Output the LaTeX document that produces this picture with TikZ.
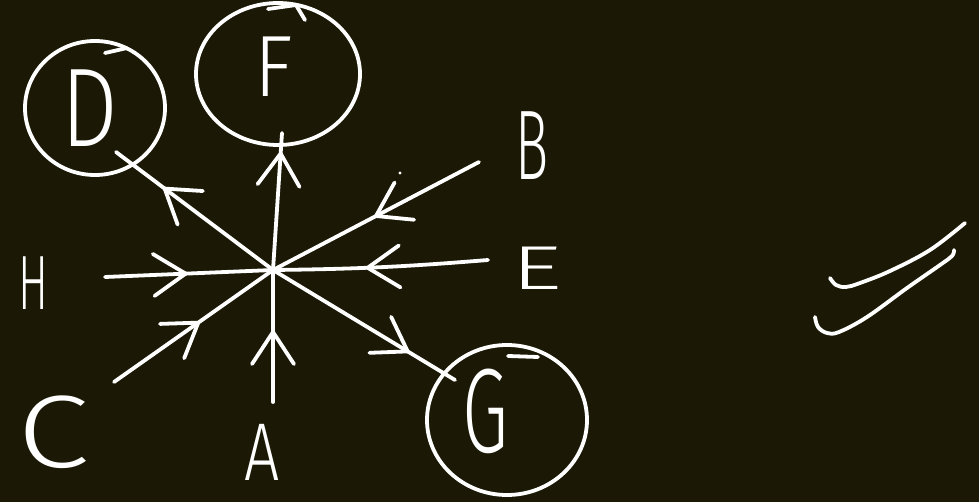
\documentclass[tikz,border=0pt]{standalone}
\usepackage{fontspec}
\setmainfont{Fira Sans Light}
\usetikzlibrary{shapes.geometric,decorations.markings}
\definecolor{bg}{RGB}{27,25,5}
\begin{document}
\begin{tikzpicture}[x=1pt,y=-1pt,
  ink/.style={draw=white,line width=3.8pt,line cap=round,line join=round},
  ring/.style={ellipse,draw=white,line width=3.8pt,inner sep=0pt},
  lbl/.style={text=white,inner sep=0pt},
  chev/.style={postaction={decorate},decoration={markings,mark=at position #1 with {\draw[white,line width=3.8pt,line cap=round,line join=round] (-32pt,-21pt) -- (0pt,0pt) -- (-32pt,21pt);}}}
]
\fill[bg] (0,0) rectangle (979,502);
\useasboundingbox (0,0) rectangle (979,502);

% circled nodes
\node[ring,minimum width=140pt,minimum height=134pt] (Dc) at (95,108) {};
\node[ring,minimum width=164pt,minimum height=142pt] (Fc) at (278,74) {};
\node[ring,minimum width=160pt,minimum height=150pt] (Gc) at (507,420) {};

% letters
\node[lbl,font=\fontsize{112}{112}\selectfont] (D) at (90,108) {\scalebox{0.8}[1]{D}};
\node[lbl,font=\fontsize{87}{87}\selectfont] (F) at (274,67) {\scalebox{0.92}[1]{F}};
\node[lbl,font=\fontsize{120}{120}\selectfont] (G) at (485,411) {\scalebox{0.62}[1]{G}};
\node[lbl,font=\fontsize{99}{99}\selectfont] (B) at (532,146) {\scalebox{0.56}[1]{B}};
\node[lbl,font=\fontsize{62}{62}\selectfont] (E) at (537,268) {\scalebox{1.6}[1]{E}};
\node[lbl,font=\fontsize{77}{77}\selectfont] (H) at (33,283) {\scalebox{0.58}[1]{H}};
\node[lbl,font=\fontsize{103}{103}\selectfont] (C) at (53,432) {\scalebox{1.27}[1]{C}};
\node[lbl,font=\fontsize{82}{82}\selectfont] (A) at (262,452) {\scalebox{0.76}[1]{A}};

% hub and free ends
\coordinate (O) at (273,270);
\coordinate (Dend) at (116,152);
\coordinate (Fend) at (282,133);
\coordinate (Gend) at (455,380);
\coordinate (Bst) at (479,162);
\coordinate (Est) at (488,260);
\coordinate (Hst) at (105,277);
\coordinate (Cst) at (114,382);
\coordinate (Ast) at (273,402);

% incoming
\draw[ink,chev=0.5] (Bst) -- (O);
\draw[ink,chev=0.56] (Est) to[bend left=2] (O);
\draw[ink,chev=0.48] (Hst) -- (O);
\draw[ink,chev=0.53] (Cst) -- (O);
\draw[ink,chev=0.53] (Ast) -- (O);
% outgoing
\draw[ink,chev=0.69] (O) -- (Dend);
\draw[ink,chev=0.85] (O) -- (Fend);
\draw[ink,chev=0.74] (O) -- (Gend);

% hand-drawn tails of the circles
\draw[ink] (105,53) -- (127,48);
\draw[ink] (268,9) -- (296,5) -- (305,20);
\draw[ink] (508,356) -- (538,357);
\fill[white] (400,173) circle (1.7pt);

% check mark
\draw[ink] plot[smooth,tension=0.6] coordinates {(830,278) (836,285) (846,287) (860,283) (890,271) (930,250) (965,223)};
\draw[ink] plot[smooth,tension=0.6] coordinates {(815,317) (818,327) (827,333) (839,332) (867,317) (907,288) (940,265) (952,256) (954,250)};
\end{tikzpicture}
\end{document}
